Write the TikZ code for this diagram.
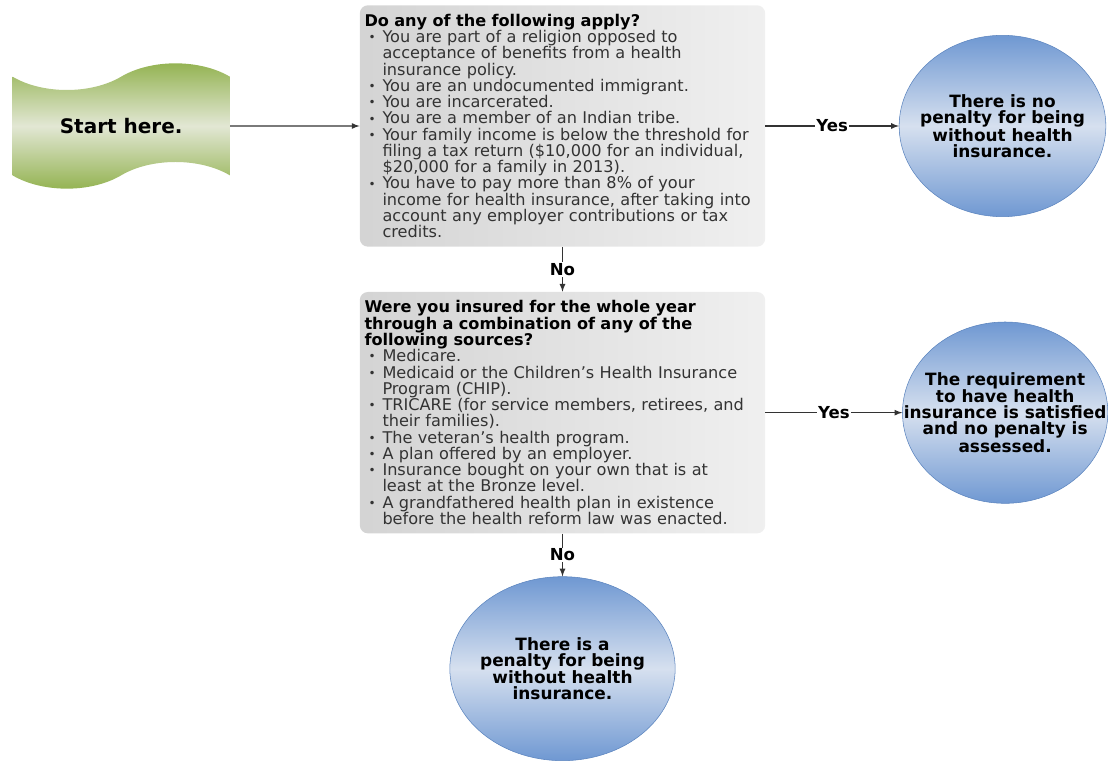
\documentclass[tikz,border=0pt]{standalone}
\usepackage{fontspec}
\setmainfont{DejaVu Sans}
\usepackage{tikz}
\usetikzlibrary{shapes.symbols,shapes.geometric,positioning}
\definecolor{leaf}{HTML}{8FB04A}
\definecolor{leaflight}{HTML}{E2E7D4}
\definecolor{sky}{HTML}{6F98D2}
\definecolor{skylight}{HTML}{D6E0EF}
\definecolor{sea}{HTML}{5B84BE}
\definecolor{ink}{HTML}{333333}
\newcommand{\Bul}{\hspace*{3pt}\makebox[10.5pt][l]{\raisebox{0.6pt}{\fontsize{9}{9}\selectfont\textbullet}}}
\newcommand{\Ind}{\hspace*{13.5pt}}

\begin{document}
\begin{tikzpicture}[x=0.75pt,y=-0.75pt,node distance=4cm]
		\tikzstyle{startbox}=[shape=tape,tape bend top=in and out,tape bend bottom=in and out,tape bend height=20pt,minimum width=163pt,minimum height=94pt,top color=leaf,bottom color=leaf,middle color=leaflight,font=\bfseries\fontsize{15}{17}\selectfont]
		\tikzstyle{ask}=[rounded corners=6pt,minimum width=304pt,minimum height=181pt,text width=297pt,inner xsep=0pt,inner ysep=2pt,align=left,left color=gray!34,right color=gray!12,text=ink,font=\fontsize{12.1}{12.2}\selectfont]
		\tikzstyle{answer}=[ellipse,draw=sea,top color=sky,bottom color=sky,middle color=skylight,inner sep=0pt]
		\tikzstyle{says}=[align=center,font=\bfseries\fontsize{12.7}{12}\selectfont,text=black]
		\tikzstyle{tag}=[fill=white,inner sep=1pt,font=\bfseries\fontsize{12.4}{12}\selectfont,text=black]
		\useasboundingbox (0,0) rectangle (1108,762);
		\node[ask] (q1) at (562.5,126) {\textbf{\color{black}Do any of the following apply?}\\
			\Bul You are part of a religion opposed to\\
			\Ind acceptance of benefits from a health\\
			\Ind insurance policy.\\
			\Bul You are an undocumented immigrant.\\
			\Bul You are incarcerated.\\
			\Bul You are a member of an Indian tribe.\\
			\Bul Your family income is below the threshold for\\
			\Ind filing a tax return (\$10,000 for an individual,\\
			\Ind \$20,000 for a family in 2013).\\
			\Bul You have to pay more than 8\% of your\\
			\Ind income for health insurance, after taking into\\
			\Ind account any employer contributions or tax\\
			\Ind credits.};
		\node[startbox] (s) [left of=q1,node distance=331pt] {Start here.};
		\node[answer,minimum width=155pt,minimum height=136pt,label={[says]center:There is no\\penalty for being\\without health\\insurance.}] (r1) [right of=q1,node distance=330pt] {};
		\node[ask] (q2) [below of=q1,node distance=215pt] {\textbf{\color{black}Were you insured for the whole year}\\
			\textbf{\color{black}through a combination of any of the}\\
			\textbf{\color{black}following sources?}\\
			\Bul Medicare.\\
			\Bul Medicaid or the Children’s Health Insurance\\
			\Ind Program (CHIP).\\
			\Bul TRICARE (for service members, retirees, and\\
			\Ind their families).\\
			\Bul The veteran’s health program.\\
			\Bul A plan offered by an employer.\\
			\Bul Insurance bought on your own that is at\\
			\Ind least at the Bronze level.\\
			\Bul A grandfathered health plan in existence\\
			\Ind before the health reform law was enacted.};
		\node[answer,minimum width=154pt,minimum height=136pt,label={[says]center:The requirement\\to have health\\insurance is satisfied\\and no penalty is\\assessed.}] (r2) [right of=q2,node distance=332pt] {};
		\node[answer,minimum width=169pt,minimum height=138pt,label={[says]center:There is a\\penalty for being\\without health\\insurance.}] (r3) [below of=q2,node distance=192pt] {};
		\draw[-latex,ink,line width=1pt] (s) edge (q1);
		\draw[-latex,ink,line width=1pt] (q1) edge node[tag] {Yes} (r1);
		\draw[-latex,ink,line width=1pt] (q2) edge node[tag] {Yes} (r2);
		\draw[-latex,ink,line width=1pt] (q1) edge node[tag] {No} (q2);
		\draw[-latex,ink,line width=1pt] (q2) edge node[tag] {No} (r3);
		\end{tikzpicture}
\end{document}
